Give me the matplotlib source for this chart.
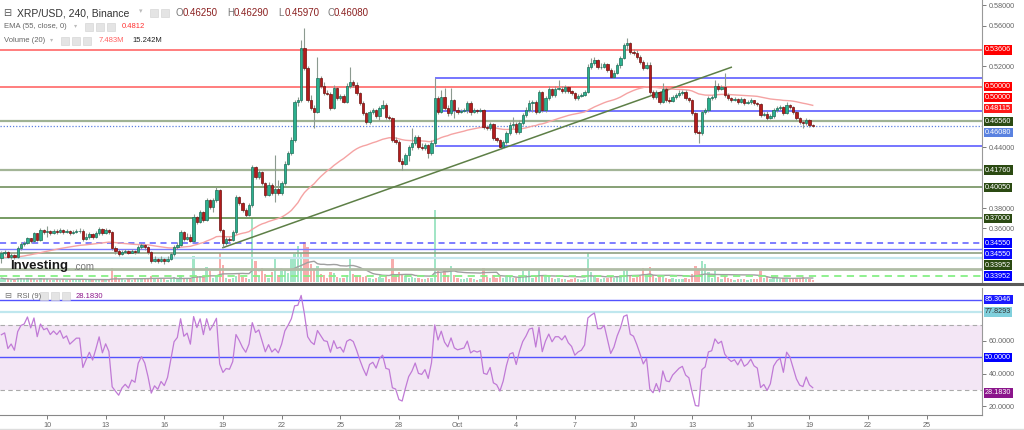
import numpy as np
import pandas as pd
import matplotlib
matplotlib.use("Agg")
import matplotlib.pyplot as plt
import matplotlib.dates as mdates
import matplotlib.transforms as mtransforms
from matplotlib.lines import Line2D
from matplotlib.patches import Rectangle

plt.rcParams['font.family'] = ['Liberation Sans', 'DejaVu Sans']

# XRP/USD 4h candles (Binance), first candle 2018-09-07 16:00
first_open = 0.331
closes = [
    0.336, 0.337, 0.332, 0.334, 0.332, 0.341, 0.345, 0.346, 0.351, 0.348,
    0.355, 0.349, 0.358, 0.356, 0.357, 0.355, 0.357, 0.356, 0.358, 0.356,
    0.357, 0.355, 0.356, 0.357, 0.357, 0.350, 0.352, 0.354, 0.352, 0.355,
    0.359, 0.355, 0.358, 0.356, 0.341, 0.338, 0.335, 0.337, 0.338, 0.336,
    0.338, 0.337, 0.342, 0.344, 0.342, 0.337, 0.328, 0.330, 0.328, 0.330,
    0.328, 0.330, 0.335, 0.342, 0.344, 0.356, 0.350, 0.352, 0.348, 0.371,
    0.366, 0.376,
    0.368, 0.388, 0.381, 0.388, 0.398, 0.358, 0.346, 0.350, 0.349, 0.356,
    0.391, 0.385, 0.378, 0.373, 0.383, 0.421, 0.411, 0.416, 0.405, 0.393,
    0.403, 0.395, 0.399, 0.395, 0.405, 0.424, 0.434, 0.447, 0.485, 0.487,
    0.538, 0.518, 0.487, 0.479, 0.475, 0.508, 0.501, 0.494, 0.493, 0.479,
    0.499, 0.489, 0.491, 0.485, 0.501, 0.504, 0.502, 0.494, 0.484, 0.474,
    0.465, 0.475, 0.477, 0.471, 0.479, 0.482, 0.470, 0.469, 0.447, 0.445,
    0.427,
    0.424, 0.432, 0.440, 0.444, 0.450, 0.440, 0.439, 0.442, 0.434, 0.444,
    0.489, 0.475, 0.490, 0.479, 0.474, 0.487, 0.477, 0.475, 0.476, 0.477,
    0.484, 0.475, 0.477, 0.476, 0.477, 0.460, 0.459, 0.463, 0.449, 0.447,
    0.440, 0.445, 0.454, 0.462, 0.463, 0.455, 0.464, 0.472, 0.477, 0.484,
    0.485, 0.475, 0.495, 0.477, 0.489, 0.498, 0.492, 0.498, 0.498, 0.496,
    0.500, 0.496, 0.494, 0.489, 0.491, 0.492, 0.495, 0.519, 0.523, 0.526,
    0.519, 0.519,
    0.522, 0.516, 0.509, 0.513, 0.521, 0.528, 0.541, 0.543, 0.534, 0.533,
    0.529, 0.524, 0.518, 0.521, 0.495, 0.490, 0.495, 0.485, 0.498, 0.487,
    0.486, 0.490, 0.492, 0.494, 0.495, 0.489, 0.487, 0.474, 0.455, 0.454,
    0.475, 0.477, 0.489, 0.490, 0.501, 0.498, 0.500, 0.492, 0.489, 0.487,
    0.488, 0.485, 0.488, 0.484, 0.485, 0.487, 0.484, 0.483, 0.472, 0.473,
    0.469, 0.471, 0.477, 0.479, 0.480, 0.474, 0.482, 0.480, 0.475, 0.469,
    0.465, 0.464, 0.467, 0.4625, 0.4608,
]
highs = [
    0.338, 0.339, 0.338, 0.336, 0.335, 0.343, 0.347, 0.348, 0.352, 0.351,
    0.356, 0.355, 0.360, 0.359, 0.362, 0.358, 0.359, 0.359, 0.360, 0.359,
    0.359, 0.358, 0.358, 0.359, 0.360, 0.359, 0.355, 0.356, 0.355, 0.357,
    0.361, 0.360, 0.360, 0.359, 0.357, 0.343, 0.340, 0.339, 0.340, 0.339,
    0.340, 0.339, 0.344, 0.346, 0.345, 0.343, 0.338, 0.333, 0.331, 0.333,
    0.331, 0.333, 0.337, 0.344, 0.347, 0.358, 0.357, 0.355, 0.354, 0.374,
    0.372, 0.378,
    0.377, 0.390, 0.389, 0.390, 0.401, 0.399, 0.359, 0.352, 0.352, 0.358,
    0.393, 0.392, 0.386, 0.380, 0.385, 0.423, 0.422, 0.418, 0.417, 0.406,
    0.406, 0.405, 0.432, 0.408, 0.407, 0.427, 0.436, 0.450, 0.487, 0.490,
    0.546, 0.558, 0.520, 0.492, 0.482, 0.529, 0.510, 0.504, 0.497, 0.495,
    0.502, 0.500, 0.493, 0.493, 0.503, 0.519, 0.506, 0.504, 0.495, 0.486,
    0.475, 0.477, 0.479, 0.478, 0.481, 0.487, 0.484, 0.472, 0.470, 0.450,
    0.447,
    0.429, 0.434, 0.442, 0.459, 0.452, 0.452, 0.444, 0.444, 0.443, 0.447,
    0.508, 0.491, 0.497, 0.499, 0.482, 0.499, 0.488, 0.480, 0.478, 0.479,
    0.486, 0.486, 0.479, 0.478, 0.479, 0.478, 0.462, 0.465, 0.464, 0.450,
    0.448, 0.447, 0.456, 0.465, 0.470, 0.465, 0.467, 0.474, 0.480, 0.487,
    0.487, 0.487, 0.497, 0.496, 0.491, 0.501, 0.499, 0.501, 0.506, 0.501,
    0.502, 0.501, 0.497, 0.495, 0.493, 0.494, 0.497, 0.522, 0.528, 0.529,
    0.527, 0.523,
    0.524, 0.523, 0.518, 0.516, 0.523, 0.530, 0.543, 0.548, 0.544, 0.537,
    0.536, 0.531, 0.526, 0.524, 0.524, 0.497, 0.497, 0.496, 0.503, 0.500,
    0.490, 0.492, 0.494, 0.497, 0.497, 0.497, 0.490, 0.488, 0.475, 0.457,
    0.477, 0.479, 0.491, 0.492, 0.506, 0.503, 0.502, 0.513, 0.494, 0.490,
    0.490, 0.489, 0.490, 0.489, 0.487, 0.489, 0.487, 0.485, 0.484, 0.475,
    0.476, 0.473, 0.479, 0.481, 0.482, 0.481, 0.485, 0.483, 0.481, 0.476,
    0.470, 0.467, 0.469, 0.468, 0.4629,
]
lows = [
    0.326, 0.334, 0.331, 0.330, 0.330, 0.331, 0.339, 0.343, 0.345, 0.346,
    0.347, 0.348, 0.348, 0.354, 0.352, 0.353, 0.354, 0.354, 0.355, 0.354,
    0.355, 0.353, 0.354, 0.355, 0.355, 0.348, 0.349, 0.350, 0.350, 0.351,
    0.353, 0.353, 0.354, 0.354, 0.339, 0.335, 0.333, 0.334, 0.336, 0.335,
    0.336, 0.335, 0.336, 0.340, 0.339, 0.335, 0.326, 0.327, 0.326, 0.327,
    0.325, 0.327, 0.329, 0.333, 0.340, 0.343, 0.348, 0.349, 0.347, 0.347,
    0.364, 0.365,
    0.366, 0.367, 0.379, 0.376, 0.386, 0.356, 0.342, 0.344, 0.347, 0.348,
    0.354, 0.383, 0.376, 0.371, 0.372, 0.381, 0.409, 0.409, 0.403, 0.391,
    0.392, 0.393, 0.386, 0.393, 0.393, 0.403, 0.423, 0.432, 0.445, 0.481,
    0.485, 0.516, 0.485, 0.477, 0.459, 0.474, 0.499, 0.492, 0.492, 0.477,
    0.478, 0.487, 0.487, 0.484, 0.484, 0.499, 0.500, 0.492, 0.482, 0.472,
    0.463, 0.463, 0.473, 0.469, 0.467, 0.478, 0.468, 0.467, 0.445, 0.443,
    0.426,
    0.418, 0.423, 0.427, 0.437, 0.442, 0.438, 0.437, 0.437, 0.429, 0.432,
    0.441, 0.473, 0.474, 0.477, 0.471, 0.472, 0.469, 0.473, 0.474, 0.475,
    0.474, 0.472, 0.474, 0.474, 0.475, 0.458, 0.457, 0.457, 0.447, 0.445,
    0.438, 0.439, 0.443, 0.452, 0.459, 0.453, 0.453, 0.462, 0.470, 0.475,
    0.475, 0.473, 0.474, 0.475, 0.475, 0.487, 0.490, 0.490, 0.497, 0.494,
    0.494, 0.494, 0.492, 0.487, 0.487, 0.490, 0.491, 0.494, 0.517, 0.521,
    0.517, 0.517,
    0.518, 0.514, 0.508, 0.508, 0.512, 0.518, 0.527, 0.536, 0.532, 0.531,
    0.527, 0.522, 0.516, 0.517, 0.493, 0.488, 0.488, 0.483, 0.484, 0.485,
    0.484, 0.485, 0.488, 0.490, 0.492, 0.487, 0.485, 0.472, 0.453, 0.444,
    0.452, 0.473, 0.475, 0.487, 0.488, 0.496, 0.497, 0.490, 0.487, 0.485,
    0.486, 0.483, 0.484, 0.482, 0.483, 0.483, 0.482, 0.481, 0.470, 0.471,
    0.467, 0.468, 0.469, 0.475, 0.477, 0.472, 0.473, 0.478, 0.473, 0.467,
    0.463, 0.459, 0.462, 0.460, 0.4597,
]
# volume in millions
volumes = [
    12, 8, 10, 6, 7, 14, 12, 9, 11, 8, 10, 7, 12, 8, 10, 6, 7, 9, 6, 8,
    7, 6, 9, 7, 8, 10, 7, 6, 8, 7, 9, 8, 6, 7, 43, 16, 10, 8, 7, 9,
    6, 8, 12, 9, 10, 14, 20, 10, 8, 12, 9, 7, 13, 16, 10, 22, 12, 8, 10, 80,
    18, 20,
    16, 46, 33, 14, 18, 90, 53, 14, 10, 12, 20, 26, 15, 12, 10, 200, 66, 20, 43, 26,
    14, 30, 76, 22, 35, 40, 28, 73, 86, 112, 92, 125, 109, 56, 40, 50, 26, 22, 14, 30,
    28, 16, 12, 14, 22, 73, 26, 20, 18, 16, 20, 14, 10, 12, 16, 12, 20, 10, 73, 24,
    30,
    26, 18, 14, 16, 12, 14, 10, 8, 12, 14, 225, 33, 28, 40, 20, 50, 22, 14, 10, 8,
    12, 14, 8, 7, 9, 43, 16, 12, 22, 14, 18, 12, 16, 20, 14, 12, 16, 33, 22, 33,
    14, 16, 40, 20, 16, 18, 12, 10, 12, 8, 10, 7, 9, 12, 8, 7, 10, 90, 30, 20,
    14, 10,
    12, 14, 18, 12, 16, 20, 33, 36, 22, 14, 16, 18, 43, 16, 46, 22, 14, 18, 16, 14,
    10, 12, 9, 10, 8, 12, 10, 26, 50, 40, 66, 56, 30, 14, 33, 16, 10, 20, 12, 8,
    7, 9, 8, 10, 7, 8, 9, 10, 33, 12, 16, 10, 14, 12, 10, 12, 14, 9, 10, 14,
    12, 16, 10, 8, 7.483,
]
ema_start = 0.331
rsi_seed_gain = 0.0022
rsi_seed_loss = 0.0016

# drawn levels
red_levels = [0.53606, 0.50000]
box_start = "2018-09-29 20:00"
box_levels = [0.508, 0.476, 0.441]
green_levels = [0.4656, 0.4176, 0.4005, 0.3700]
low_levels = [0.3455, 0.3396, 0.3357, 0.3308, 0.3199, 0.3130]
trend_times = ["2018-09-19 00:00", "2018-10-15 00:00"]
trend_prices = [0.341, 0.519]
price_ticks = [0.36, 0.38, 0.44, 0.52, 0.56, 0.58]
price_labels = ["0.53606", "0.50000", "0.50000", "0.48115", "0.46560", "0.46080",
                "0.41760", "0.40050", "0.37000", "0.34550", "0.34550", "0.33952", "0.33952"]
price_label_colors = ["#ff0000", "#ff0000", "#ff0000", "#ff1a1a", "#2b4a12", "#5a82e0",
                      "#2b4a12", "#2b4a12", "#2b4a12", "#0000ff", "#0a0aff", "#2b4a12", "#0000ff"]
rsi_levels = [85.3046, 77.8293, 50.0]
rsi_ticks = [20, 40, 60]
rsi_labels = ["85.3046", "77.8293", "50.0000", "28.1830"]
rsi_label_colors = ["#1a1aff", "#80d0dc", "#0000ff", "#8b158b"]
tick_days = ["2018-09-10", "2018-09-13", "2018-09-16", "2018-09-19", "2018-09-22",
             "2018-09-25", "2018-09-28", "2018-10-01", "2018-10-04", "2018-10-07",
             "2018-10-10", "2018-10-13", "2018-10-16", "2018-10-19", "2018-10-22",
             "2018-10-25"]
tick_labels = ["10", "13", "16", "19", "22", "25", "28", "Oct", "4", "7", "10", "13",
               "16", "19", "22", "25"]

W, H = 1024, 430
def fx(px):
    return px / W
def fy(py):
    return 1 - py / H

closes = np.array(closes)
opens = np.r_[first_open, closes[:-1]]
highs = np.maximum(np.array(highs), np.maximum(opens, closes))
lows = np.minimum(np.array(lows), np.minimum(opens, closes))
volumes = np.array(volumes, dtype=float)
n = len(closes)
times = pd.date_range("2018-09-07 16:00", periods=n, freq="4h")
x = mdates.date2num(times.to_pydatetime())
up = closes >= opens

# EMA 55
ema = np.empty(n)
prev = ema_start
for k in range(n):
    prev = prev + 2 / 56 * (closes[k] - prev)
    ema[k] = prev

# RSI 9 (Wilder)
diff = closes - opens
gain = np.clip(diff, 0, None)
loss = np.clip(-diff, 0, None)
ag, al = rsi_seed_gain, rsi_seed_loss
rsi = np.empty(n)
for k in range(n):
    ag = (ag * 8 + gain[k]) / 9
    al = (al * 8 + loss[k]) / 9
    rsi[k] = 100 - 100 / (1 + ag / al)

vol_sma = pd.Series(volumes).rolling(20, min_periods=1).mean().values

x0 = mdates.date2num(pd.Timestamp("2018-09-08").to_pydatetime())
xlim = (x0 - 7.9 / 19.55, x0 + (982 - 7.9) / 19.55)

fig = plt.figure(figsize=(10.24, 4.30), dpi=100)
fig.patch.set_facecolor("white")

main_rect = [0, fy(282), 982 / W, 282 / H]
axv = fig.add_axes(main_rect)
ax = fig.add_axes(main_rect)
ax.set_facecolor("none")
axr = fig.add_axes([0, fy(415), 982 / W, (415 - 288) / H])

# volume
axv.bar(x, volumes, width=0.12, color=np.where(up, "#a2e5c6", "#f7adad"), linewidth=0)
axv.plot(x, vol_sma, color="#a0a0a0", lw=1)
axv.set_xlim(xlim)
axv.set_ylim(0, 880)
axv.axis("off")

# levels
for lv in red_levels:
    ax.axhline(lv, color="#ff5a5a", lw=1.1, zorder=1)
bs = mdates.date2num(pd.Timestamp(box_start).to_pydatetime())
ax.hlines(box_levels, bs, xlim[1], colors="#7575ff", lw=1.4, zorder=1)
ax.axhline(green_levels[0], color="#9fb293", lw=1.6, zorder=1)
ax.axhline(green_levels[1], color="#a3b597", lw=1.6, zorder=1)
ax.axhline(green_levels[2], color="#86a075", lw=1.4, zorder=1)
ax.axhline(green_levels[3], color="#5f8a48", lw=1.2, zorder=1)
ax.axhline(low_levels[0], color="#5a5aff", lw=1.1, ls=(0, (4, 3)), zorder=1)
ax.axhline(low_levels[1], color="#7c7cff", lw=1.0, zorder=1)
ax.axhline(low_levels[2], color="#8f9f82", lw=1.2, zorder=1)
ax.axhline(low_levels[3], color="#c4e6ee", lw=1.6, zorder=1)
ax.axhline(low_levels[4], color="#b0bca6", lw=2.0, zorder=1)
ax.axhline(low_levels[5], color="#86f086", lw=1.3, ls=(0, (4, 3)), zorder=1)
ax.axhline(closes[-1], color="#5a7fe0", lw=0.9, ls=(0, (1, 1.5)), zorder=1)

tt = mdates.date2num(pd.to_datetime(trend_times).to_pydatetime())
ax.plot(tt, trend_prices, color="#5d7f46", lw=1.1, zorder=2)
ax.plot(x, ema, color="#f5a3a3", lw=1.0, zorder=2)

# candles
ax.vlines(x, lows, highs, color="#8c9a90", lw=0.8, zorder=3)
body_bottom = np.minimum(opens, closes)
body_h = np.maximum(np.abs(closes - opens), 0.0007)
ax.bar(x, body_h, bottom=body_bottom, width=0.12,
       color=np.where(up, "#2bb08e", "#b31c1c"),
       edgecolor=np.where(up, "#1d6e58", "#6e1010"), linewidth=0.5, zorder=4)

ax.set_xlim(xlim)
ax.set_ylim(0.3071, 0.5854)
ax.set_xticks([])
ax.yaxis.tick_right()
ax.set_yticks(price_ticks)
ax.yaxis.set_major_formatter(plt.FuncFormatter(lambda v, p: f"{v:.5f}"))
ax.tick_params(axis="y", labelsize=5.2, colors="#666", length=3, pad=2, width=0.6)
for s in ["top", "left", "bottom"]:
    ax.spines[s].set_visible(False)
ax.spines["right"].set_color("#999")

# right price labels, stacked like the platform does
trans = mtransforms.blended_transform_factory(ax.transAxes, ax.transData)
label_vals = [float(t) for t in price_labels]
gap = 11 * (0.5854 - 0.3071) / 282
prev_pos = 1.0
for txt, val, col in zip(price_labels, label_vals, price_label_colors):
    pos = min(val, prev_pos - gap)
    prev_pos = pos
    ax.text(1.0 + 3 / 982, pos, txt, transform=trans, ha="left", va="center",
            fontsize=5.2, color="white", clip_on=False, zorder=10,
            bbox=dict(boxstyle="square,pad=0.16", fc=col, ec="none"))

# RSI panel
axr.axhspan(30, 70, color="#f3e6f5", lw=0)
axr.axhline(70, color="#aaaaaa", lw=0.8, ls=(0, (4, 3)))
axr.axhline(30, color="#aaaaaa", lw=0.8, ls=(0, (4, 3)))
axr.axhline(rsi_levels[0], color="#5252ff", lw=1.0)
axr.axhline(rsi_levels[1], color="#bfe7ee", lw=1.6)
axr.axhline(rsi_levels[2], color="#5252ff", lw=1.0)
axr.plot(x, rsi, color="#c07ad6", lw=0.9)
axr.set_xlim(xlim)
axr.set_ylim(14.6, 92.5)
axr.yaxis.tick_right()
axr.set_yticks(rsi_ticks)
axr.yaxis.set_major_formatter(plt.FuncFormatter(lambda v, p: f"{v:.4f}"))
axr.tick_params(axis="y", labelsize=5.2, colors="#666", length=3, pad=2, width=0.6)
td = mdates.date2num(pd.to_datetime(tick_days).to_pydatetime())
axr.set_xticks(td)
axr.set_xticklabels(tick_labels)
axr.tick_params(axis="x", labelsize=5.2, colors="#666", length=3, pad=2, width=0.6)
for s in ["top", "left"]:
    axr.spines[s].set_visible(False)
axr.spines["right"].set_color("#999")
axr.spines["bottom"].set_color("#888")

rtrans = mtransforms.blended_transform_factory(axr.transAxes, axr.transData)
for txt, col in zip(rsi_labels, rsi_label_colors):
    axr.text(1.0 + 3 / 982, float(txt), txt, transform=rtrans, ha="left", va="center",
             fontsize=5.2, color="#333" if col == "#80d0dc" else "white", clip_on=False,
             zorder=10, bbox=dict(boxstyle="square,pad=0.16", fc=col, ec="none"))

# panel separator and frame
fig.add_artist(Line2D([0, 1], [fy(284), fy(284)], color="#5a5a5a", lw=2.2))
fig.add_artist(Line2D([0, 1], [fy(429), fy(429)], color="#dddddd", lw=1.0))

# legend / header text
def icons(xs, yc):
    for xi in xs:
        fig.add_artist(Rectangle((fx(xi), fy(yc + 4)), 8 / W, 8 / H,
                                 fc="#e4e4e4", ec="#d0d0d0", lw=0.4))

fig.text(fx(3), fy(13), "\u229f", fontsize=7, color="#555", va="center")
fig.text(fx(17), fy(13), "XRP/USD, 240, Binance", fontsize=7.5, color="#333", va="center")
fig.text(fx(139), fy(12), "\u25be", fontsize=5, color="#bbb", va="center")
icons([150, 161], 13)
for lab, val, px in [("O", opens[-1], 176), ("H", highs[-1], 227),
                     ("L", lows[-1], 278), ("C", closes[-1], 327)]:
    fig.text(fx(px), fy(13), lab, fontsize=7, color="#777", va="center")
    fig.text(fx(px + 7), fy(13), f"{val:.5f}", fontsize=7, color="#8b2020", va="center")

fig.text(fx(4), fy(27), "EMA (55, close, 0)", fontsize=5.5, color="#666", va="center")
fig.text(fx(74), fy(26), "\u25be", fontsize=4.5, color="#bbb", va="center")
icons([85, 96, 107], 27)
fig.text(fx(122), fy(27), "0.4812", fontsize=5.5, color="#ff3030", va="center")

fig.text(fx(4), fy(41), "Volume (20)", fontsize=5.5, color="#666", va="center")
fig.text(fx(50), fy(40), "\u25be", fontsize=4.5, color="#bbb", va="center")
icons([61, 72, 83], 41)
fig.text(fx(99), fy(41), "7.483M", fontsize=5.5, color="#ff6060", va="center")
fig.text(fx(132), fy(41), "15.242M", fontsize=5.5, color="#222", va="center")

fig.text(fx(4), fy(296), "\u229f", fontsize=6, color="#777", va="center")
fig.text(fx(17), fy(296), "RSI (9)", fontsize=5.5, color="#666", va="center")
icons([40, 51, 62], 296)
fig.text(fx(76), fy(296), "28.1830", fontsize=5.5, color="#8b158b", va="center")

fig.text(fx(10), fy(266), "Investing", fontsize=9.5, fontweight="bold", color="#1a1a1a", va="center")
fig.text(fx(73), fy(267), ".com", fontsize=7, color="#777", va="center")

fig.savefig("out.png", dpi=100, facecolor="white")
